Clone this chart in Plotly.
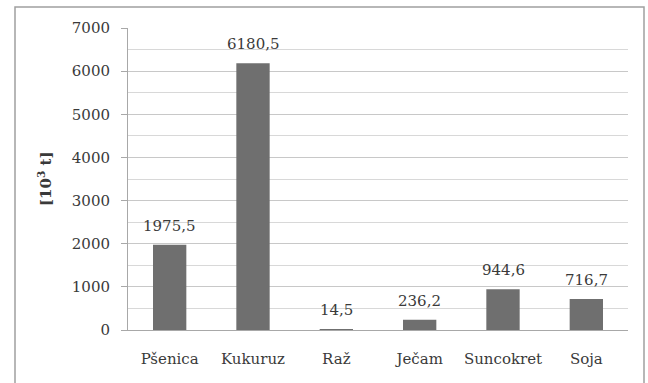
import plotly.graph_objects as go

# Production by crop, thousands of tonnes
crops = ["Pšenica", "Kukuruz", "Raž", "Ječam", "Suncokret", "Soja"]
production = [1975.5, 6180.5, 14.5, 236.2, 944.6, 716.7]
y_ticks = [0, 1000, 2000, 3000, 4000, 5000, 6000, 7000]

serif = "'DejaVu Serif'"
text_color = "#3a3a3a"

fig = go.Figure()
fig.add_trace(go.Bar(
    x=crops,
    y=production,
    marker=dict(color="#6f6f6f", line=dict(width=0)),
    width=0.4,
    hoverinfo="x+y",
))

# value labels above each bar, decimal comma
for c, v in zip(crops, production):
    fig.add_annotation(
        x=c, y=v, xref="x", yref="y",
        text=f"{v:.1f}".replace(".", ","),
        showarrow=False, yanchor="bottom", yshift=8,
        font=dict(family=serif, size=15, color=text_color),
    )

# y-axis title
fig.add_annotation(
    x=-0.166, y=0.5, xref="paper", yref="paper",
    text="<b>[10<sup>3</sup> t]</b>", textangle=-90, showarrow=False,
    xanchor="center", yanchor="middle",
    font=dict(family=serif, size=15, color=text_color),
)

# outer frame around the chart
fig.add_shape(
    type="rect", xref="paper", yref="paper",
    x0=(15 - 128) / 500, x1=(644 - 128) / 500,
    y0=-0.3, y1=1 + 21 / 302,
    line=dict(color="#a0a0a0", width=1.5), fillcolor="rgba(0,0,0,0)",
    layer="below",
)

fig.update_layout(
    width=648, height=383,
    margin=dict(l=128, r=20, t=28, b=53),
    paper_bgcolor="white", plot_bgcolor="white",
    showlegend=False,
    bargap=0.6,
    font=dict(family=serif, size=15, color=text_color),
    xaxis=dict(
        showgrid=False, showline=True, linecolor="#a8a8a8", linewidth=1,
        ticks="", ticklabelstandoff=15,
        tickfont=dict(family=serif, size=15, color=text_color),
        fixedrange=True,
    ),
    yaxis=dict(
        range=[0, 7000], tickvals=y_ticks,
        showgrid=True, gridcolor="#c8c8c8", gridwidth=1,
        minor=dict(dtick=500, showgrid=True, gridcolor="#d8d8d8", gridwidth=1),
        showline=True, linecolor="#a8a8a8", linewidth=1,
        ticks="outside", ticklen=6, tickcolor="#a8a8a8",
        ticklabelstandoff=8, zeroline=False,
        tickfont=dict(family=serif, size=15, color=text_color),
        fixedrange=True,
    ),
)

fig.write_html("out.html")
